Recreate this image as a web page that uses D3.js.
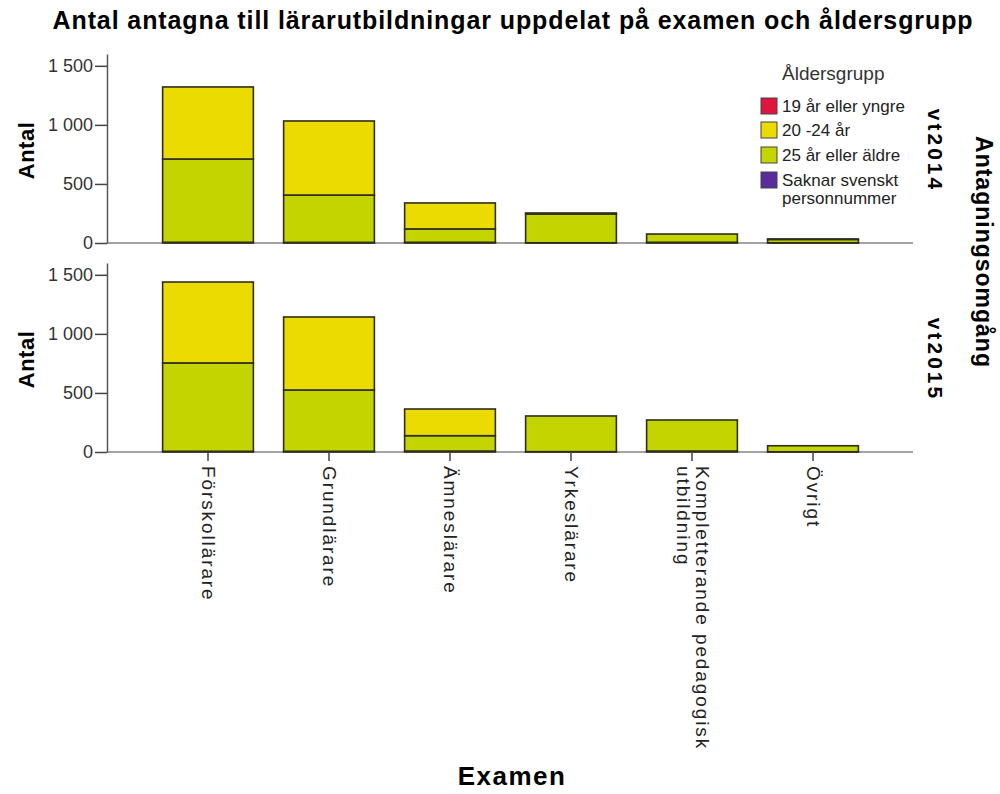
<!DOCTYPE html>
<html>
<head>
<meta charset="utf-8">
<script src="https://cdn.jsdelivr.net/npm/d3@7"></script>
<style>
  html, body { margin: 0; padding: 0; background: #fff; }
  svg { display: block; font-family: Arial, "Liberation Sans", sans-serif; }
</style>
</head>
<body>
<svg id="chart" width="1000" height="794"></svg>
<script>
// Categories (Examen), admission rounds and age groups
const categories = ["Förskollärare", "Grundlärare", "Ämneslärare", "Yrkeslärare", "Kompletterande pedagogisk utbildning", "Övrigt"];
const rounds = ["vt2014", "vt2015"];
const ageGroups = ["19 år eller yngre", "20 -24 år", "25 år eller äldre", "Saknar svenskt personnummer"];
const yTicks = [0, 500, 1000, 1500];

// Number of admitted per age group, one array per round
const vt2014_19 = [0, 0, 0, 0, 0, 0];
const vt2014_20_24 = [610, 627, 220, 8, 0, 4];
const vt2014_25 = [705, 401, 113, 244, 70, 28];
const vt2014_saknar = [6, 5, 6, 2, 6, 2];

const vt2015_19 = [0, 0, 0, 0, 0, 0];
const vt2015_20_24 = [685, 618, 226, 0, 0, 0];
const vt2015_25 = [748, 519, 130, 302, 263, 51];
const vt2015_saknar = [6, 6, 8, 3, 8, 2];

const seriesByRound = {
  vt2014: [vt2014_19, vt2014_20_24, vt2014_25, vt2014_saknar],
  vt2015: [vt2015_19, vt2015_20_24, vt2015_25, vt2015_saknar]
};

const colors = ["#e0143c", "#ebdb00", "#c4d400", "#5b2c9c"];
// stacking from the baseline upwards
const stackOrder = [3, 2, 1, 0];

const svg = d3.select("#chart");

const fmt = d3.formatLocale({ decimal: ",", thousands: " ", grouping: [3], currency: ["", ""] }).format(",");

const x = d3.scaleBand()
  .domain(categories)
  .range([147.5, 873.5])
  .paddingInner(0.25)
  .paddingOuter(0.125);

const yMax = 1600;
const panelH = 189;
const baselines = [243, 452];
const axisX = 107;

const color = d3.scaleOrdinal().domain(ageGroups).range(colors);

rounds.forEach((round, ri) => {
  const base = baselines[ri];
  const y = d3.scaleLinear().domain([0, yMax]).range([base, base - panelH]);
  const g = svg.append("g");

  // baseline
  g.append("line")
    .attr("x1", axisX).attr("x2", 913)
    .attr("y1", base).attr("y2", base)
    .attr("stroke", "#a3a3a3").attr("stroke-width", 2);

  // y axis
  const ay = g.append("g")
    .attr("transform", `translate(${axisX},0)`)
    .call(d3.axisLeft(y).tickValues(yTicks).tickFormat(fmt).tickSize(12).tickSizeOuter(0));
  ay.select(".domain").attr("stroke", "#555").attr("stroke-width", 1.5);
  ay.selectAll(".tick line").attr("stroke", "#444").attr("stroke-width", 1.5);
  ay.selectAll(".tick text")
    .attr("x", -14)
    .attr("font-size", 18)
    .attr("fill", "#333");

  // stacked bars
  const rows = categories.map((c, i) => {
    const r = { cat: c };
    ageGroups.forEach((a, k) => { r[a] = seriesByRound[round][k][i]; });
    return r;
  });
  const stack = d3.stack().keys(stackOrder.map(k => ageGroups[k]));
  const layers = stack(rows);
  g.selectAll("g.layer")
    .data(layers)
    .join("g")
    .attr("class", "layer")
    .attr("fill", d => color(d.key))
    .selectAll("rect")
    .data(d => d.filter(v => v[1] - v[0] > 0))
    .join("rect")
    .attr("x", d => x(d.data.cat))
    .attr("width", x.bandwidth())
    .attr("y", d => y(d[1]))
    .attr("height", d => y(d[0]) - y(d[1]))
    .attr("stroke", "#2e2e1e")
    .attr("stroke-width", 1.6);

  // y axis title
  g.append("text")
    .attr("transform", `translate(34,${base - panelH / 2 + 2}) rotate(-90)`)
    .attr("text-anchor", "middle")
    .attr("font-size", 22)
    .attr("font-weight", "bold")
    .attr("letter-spacing", 0.5)
    .text("Antal");

  // panel label on the right
  g.append("text")
    .attr("transform", `translate(928,${base - panelH / 2 + 2}) rotate(90)`)
    .attr("text-anchor", "middle")
    .attr("font-size", 21)
    .attr("font-weight", "bold")
    .attr("letter-spacing", 3)
    .text(round);

  // x ticks and labels under the bottom panel
  if (ri === rounds.length - 1) {
    const ax = g.append("g")
      .attr("transform", `translate(0,${base})`)
      .call(d3.axisBottom(x).tickSize(9).tickSizeOuter(0).tickFormat(""));
    ax.select(".domain").remove();
    ax.selectAll(".tick line").attr("stroke", "#444").attr("stroke-width", 1.5);

    const wrap = c => c === "Kompletterande pedagogisk utbildning"
      ? ["Kompletterande pedagogisk", "utbildning"] : [c];
    categories.forEach(c => {
      const lines = wrap(c);
      const cx = x(c) + x.bandwidth() / 2;
      const t = g.append("text")
        .attr("transform", `translate(${cx},${base + 14}) rotate(90)`)
        .attr("font-size", 19)
        .attr("letter-spacing", 1.9)
        .attr("fill", "#222");
      lines.forEach((ln, li) => {
        t.append("tspan")
          .attr("x", 0)
          .attr("y", (li - (lines.length - 1) / 2) * 19 + 6)
          .text(ln);
      });
    });
  }
});

// title
svg.append("text")
  .attr("x", 513).attr("y", 29)
  .attr("text-anchor", "middle")
  .attr("font-size", 25)
  .attr("font-weight", "bold")
  .attr("letter-spacing", 0.9)
  .text("Antal antagna till lärarutbildningar uppdelat på examen och åldersgrupp");

// x axis title
svg.append("text")
  .attr("x", 512).attr("y", 785)
  .attr("text-anchor", "middle")
  .attr("font-size", 26)
  .attr("font-weight", "bold")
  .attr("letter-spacing", 1.5)
  .text("Examen");

// facet title
svg.append("text")
  .attr("transform", "translate(976,252) rotate(90)")
  .attr("text-anchor", "middle")
  .attr("font-size", 23)
  .attr("font-weight", "bold")
  .attr("letter-spacing", 1)
  .text("Antagningsomgång");

// legend
const legend = svg.append("g");
legend.append("text")
  .attr("x", 782).attr("y", 80)
  .attr("font-size", 19)
  .attr("fill", "#333")
  .text("Åldersgrupp");
const itemY = [106, 130, 155, 180];
ageGroups.forEach((a, i) => {
  legend.append("rect")
    .attr("x", 761).attr("y", itemY[i] - 8)
    .attr("width", 16).attr("height", 16)
    .attr("fill", color(a))
    .attr("stroke", "#444").attr("stroke-width", 1);
  const lines = a === "Saknar svenskt personnummer" ? ["Saknar svenskt", "personnummer"] : [a];
  const t = legend.append("text").attr("font-size", 17).attr("fill", "#222");
  lines.forEach((ln, li) => {
    t.append("tspan").attr("x", 782).attr("y", itemY[i] + 6 + li * 18).text(ln);
  });
});
</script>
</body>
</html>
